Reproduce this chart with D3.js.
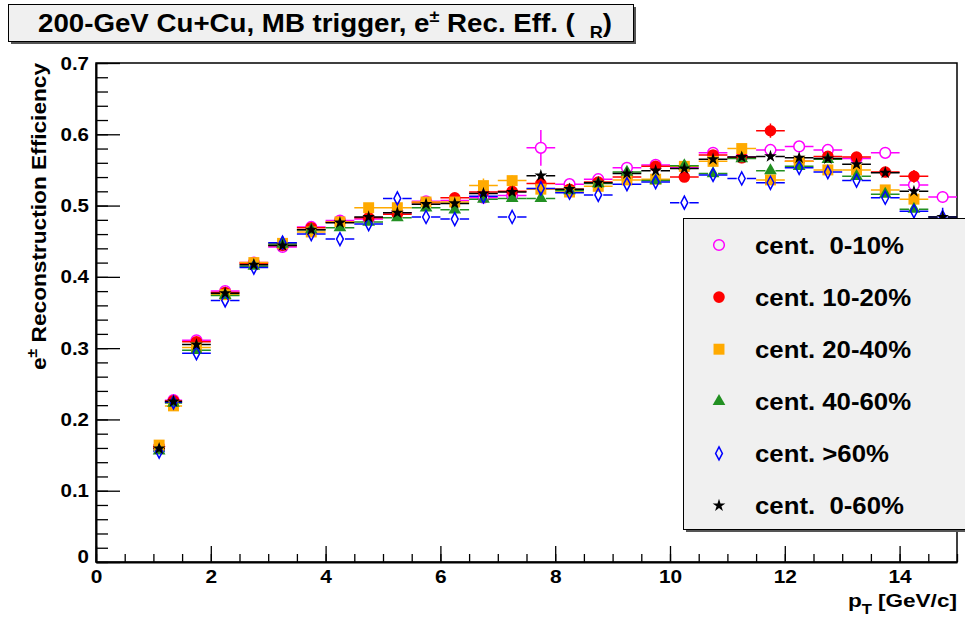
<!DOCTYPE html>
<html>
<head>
<meta charset="utf-8">
<script src="https://cdn.jsdelivr.net/npm/d3@7"></script>
<style>
    body { margin: 0; background: #fff; }
    text { font-family: "Liberation Sans", Arial, Helvetica, sans-serif; font-weight: bold; fill: #000; }
</style>
</head>
<body>
<div id="chart"></div>
<script>
// pT bin centres and half widths [GeV/c]
const pt = [1.1, 1.35, 1.75, 2.25, 2.75, 3.25, 3.75, 4.25, 4.75, 5.25, 5.75, 6.25, 6.75, 7.25, 7.75,
    8.25, 8.75, 9.25, 9.75, 10.25, 10.75, 11.25, 11.75, 12.25, 12.75, 13.25, 13.75, 14.25, 14.75]
const ptHalfWidth = [0.1, 0.15, 0.25, 0.25, 0.25, 0.25, 0.25, 0.25, 0.25, 0.25, 0.25, 0.25, 0.25, 0.25, 0.25,
    0.25, 0.25, 0.25, 0.25, 0.25, 0.25, 0.25, 0.25, 0.25, 0.25, 0.25, 0.25, 0.25, 0.25]

const centLabels = ["cent.  0-10%", "cent. 10-20%", "cent. 20-40%", "cent. 40-60%", "cent. >60%", "cent.  0-60%"]

// efficiency per centrality class
const eff0to10 = [0.162, 0.227, 0.311, 0.380, 0.420, 0.442, 0.470, 0.479, 0.481, 0.490, 0.506, 0.507, 0.511, 0.514, 0.581,
    0.530, 0.537, 0.553, 0.557, 0.553, 0.574, 0.568, 0.578, 0.583, 0.578, 0.566, 0.574, 0.529, 0.512]
const eff10to20 = [0.161, 0.226, 0.309, 0.378, 0.419, 0.444, 0.469, 0.477, 0.483, 0.488, 0.504, 0.511, 0.519, 0.520, 0.531,
    0.523, 0.533, 0.540, 0.555, 0.540, 0.571, 0.567, 0.605, 0.562, 0.569, 0.568, 0.547, 0.541, 0.470]
const eff20to40 = [0.164, 0.219, 0.301, 0.375, 0.420, 0.447, 0.463, 0.477, 0.497, 0.497, 0.505, 0.505, 0.528, 0.535, 0.523,
    0.519, 0.527, 0.536, 0.537, 0.555, 0.562, 0.580, 0.536, 0.562, 0.550, 0.550, 0.522, 0.509, 0.462]
const eff40to60 = [0.156, 0.223, 0.297, 0.374, 0.415, 0.446, 0.466, 0.469, 0.477, 0.483, 0.497, 0.494, 0.509, 0.510, 0.510,
    0.521, 0.531, 0.547, 0.535, 0.556, 0.545, 0.566, 0.549, 0.555, 0.565, 0.541, 0.516, 0.495, 0.455]
const effAbove60 = [0.155, 0.224, 0.293, 0.367, 0.413, 0.448, 0.460, 0.453, 0.474, 0.510, 0.484, 0.481, 0.513, 0.484, 0.524,
    0.518, 0.515, 0.530, 0.533, 0.504, 0.543, 0.538, 0.532, 0.553, 0.547, 0.535, 0.511, 0.492, 0.484]
const eff0to60 = [0.159, 0.225, 0.305, 0.377, 0.417, 0.444, 0.466, 0.476, 0.484, 0.490, 0.502, 0.503, 0.517, 0.519, 0.542,
    0.523, 0.532, 0.545, 0.549, 0.552, 0.565, 0.568, 0.569, 0.567, 0.566, 0.558, 0.546, 0.520, 0.484]

// statistical errors
const err0to10 = [0.004, 0.004, 0.004, 0.004, 0.004, 0.004, 0.004, 0.004, 0.004, 0.004, 0.004, 0.004, 0.005, 0.005, 0.025,
    0.005, 0.005, 0.005, 0.005, 0.005, 0.006, 0.006, 0.006, 0.006, 0.006, 0.006, 0.007, 0.007, 0.008]
const err10to20 = [0.004, 0.004, 0.004, 0.004, 0.004, 0.004, 0.004, 0.004, 0.004, 0.004, 0.004, 0.005, 0.005, 0.005, 0.005,
    0.005, 0.005, 0.005, 0.005, 0.005, 0.006, 0.006, 0.010, 0.006, 0.006, 0.006, 0.007, 0.009, 0.008]
const err20to40 = [0.004, 0.004, 0.004, 0.004, 0.004, 0.004, 0.004, 0.004, 0.004, 0.004, 0.004, 0.004, 0.010, 0.008, 0.005,
    0.005, 0.005, 0.005, 0.005, 0.005, 0.006, 0.006, 0.006, 0.006, 0.006, 0.006, 0.007, 0.007, 0.008]
const err40to60 = [0.004, 0.004, 0.004, 0.004, 0.004, 0.004, 0.004, 0.004, 0.004, 0.004, 0.004, 0.004, 0.005, 0.005, 0.005,
    0.005, 0.005, 0.005, 0.005, 0.005, 0.006, 0.006, 0.006, 0.006, 0.006, 0.006, 0.007, 0.007, 0.008]
const errAbove60 = [0.006, 0.006, 0.006, 0.006, 0.006, 0.009, 0.006, 0.006, 0.006, 0.007, 0.006, 0.006, 0.006, 0.006, 0.006,
    0.006, 0.006, 0.006, 0.006, 0.006, 0.007, 0.007, 0.007, 0.007, 0.007, 0.007, 0.008, 0.009, 0.013]
const err0to60 = [0.002, 0.002, 0.002, 0.002, 0.002, 0.002, 0.002, 0.002, 0.002, 0.002, 0.002, 0.002, 0.003, 0.003, 0.006,
    0.003, 0.003, 0.003, 0.003, 0.003, 0.003, 0.003, 0.003, 0.003, 0.003, 0.003, 0.004, 0.004, 0.006]

const xTicks = [0, 2, 4, 6, 8, 10, 12, 14]
const yTicks = [0, 0.1, 0.2, 0.3, 0.4, 0.5, 0.6, 0.7]

function plotChart() {
    const seriesValues = [eff0to10, eff10to20, eff20to40, eff40to60, effAbove60, eff0to60]
    const seriesErrors = [err0to10, err10to20, err20to40, err40to60, errAbove60, err0to60]

    // marker styles, ROOT-like
    const diamond = "M0,-6.5L3.4,0L0,6.5L-3.4,0Z"
    const styles = [
        { color: "#ff00ff", path: d3.symbol(d3.symbolCircle, 90)(), fill: "none" },
        { color: "#ff0000", path: d3.symbol(d3.symbolCircle, 105)(), fill: "#ff0000" },
        { color: "#ffaa00", path: d3.symbol(d3.symbolSquare, 120)(), fill: "#ffaa00" },
        { color: "#229022", path: d3.symbol(d3.symbolTriangle, 70)(), fill: "#229022" },
        { color: "#0000ff", path: diamond, fill: "none" },
        { color: "#000000", path: d3.symbol(d3.symbolStar, 50)(), fill: "#000000" }
    ]

    const series = centLabels.map((label, i) => ({
        label,
        style: styles[i],
        points: pt.map((x, j) => ({ x, hw: ptHalfWidth[j], y: seriesValues[i][j], err: seriesErrors[i][j] }))
    }))

    // Set dimensions
    const dimensions = {
        width: 965,
        height: 621,
        margins: { top: 63, right: 8, bottom: 59, left: 96 }
    }
    dimensions.boundedWidth = dimensions.width - dimensions.margins.left - dimensions.margins.right
    dimensions.boundedHeight = dimensions.height - dimensions.margins.top - dimensions.margins.bottom

    const wrapper = d3.select("#chart").append("svg")
        .attr("width", dimensions.width)
        .attr("height", dimensions.height)

    const bounds = wrapper.append("g")
        .attr("transform", `translate(${dimensions.margins.left},${dimensions.margins.top})`)

    // Scales
    const xScale = d3.scaleLinear()
        .domain([0, 15])
        .range([0, dimensions.boundedWidth])

    const yScale = d3.scaleLinear()
        .domain([0, 0.7])
        .range([dimensions.boundedHeight, 0])

    // Frame
    bounds.append("rect")
        .attr("width", dimensions.boundedWidth)
        .attr("height", dimensions.boundedHeight)
        .attr("fill", "none")
        .attr("stroke", "#000")
        .attr("stroke-width", 1.5)

    // text stretched a bit wider, like the ROOT output
    const stretch = (sel, k) => sel.each(function () {
        const len = this.getComputedTextLength()
        d3.select(this).attr("textLength", len * k).attr("lengthAdjust", "spacingAndGlyphs")
    })

    // Axes
    const xMinor = bounds.append("g")
        .attr("transform", `translate(0,${dimensions.boundedHeight})`)
        .call(d3.axisBottom(xScale).tickValues(d3.range(0, 15.01, 0.5)).tickSize(-8).tickFormat(""))
    xMinor.select(".domain").remove()

    const xAxis = bounds.append("g")
        .attr("transform", `translate(0,${dimensions.boundedHeight})`)
        .call(d3.axisBottom(xScale).tickValues(xTicks).tickSize(-16).tickSizeOuter(0).tickPadding(8).tickFormat(d3.format("d")))
    xAxis.selectAll("text").attr("font-size", 19).attr("fill", "#000").call(stretch, 1.1)

    const yMinor = bounds.append("g")
        .call(d3.axisLeft(yScale).tickValues(d3.range(0, 0.7001, 0.02)).tickSize(-12).tickFormat(""))
    yMinor.select(".domain").remove()

    const yAxis = bounds.append("g")
        .call(d3.axisLeft(yScale).tickValues(yTicks).tickSize(-24).tickSizeOuter(0).tickPadding(7)
            .tickFormat(d => d === 0 ? "0" : d3.format(".1f")(d)))
    yAxis.selectAll("text").attr("font-size", 19).attr("fill", "#000").call(stretch, 1.08)
    yAxis.selectAll(".tick").filter(d => d === 0).select("text").attr("dy", "0.0em")

    bounds.selectAll(".domain").attr("stroke-width", 2)
    bounds.selectAll(".tick line").attr("stroke", "#000").attr("stroke-width", 1.3)

    // Axis titles
    const xTitle = wrapper.append("text")
        .attr("x", 957)
        .attr("y", 607)
        .attr("text-anchor", "end")
        .attr("font-size", 19)
    xTitle.append("tspan").text("p")
    xTitle.append("tspan").attr("font-size", 14).attr("dy", 7).text("T")
    xTitle.append("tspan").attr("dy", -7).attr("dx", 5).text("[GeV/c]")
    xTitle.attr("textLength", 109).attr("lengthAdjust", "spacingAndGlyphs")

    const yTitle = wrapper.append("text")
        .attr("transform", "translate(46,63) rotate(-90)")
        .attr("text-anchor", "end")
        .attr("font-size", 20)
    yTitle.append("tspan").text("e")
    yTitle.append("tspan").attr("font-size", 14).attr("dy", -9).text("±")
    yTitle.append("tspan").attr("dy", 9).text(" Reconstruction Efficiency")
    yTitle.attr("textLength", 307).attr("lengthAdjust", "spacingAndGlyphs")

    // Data
    const gap = 5
    series.forEach(s => {
        const g = bounds.append("g")
        const pts = g.selectAll("g").data(s.points).enter().append("g")
            .attr("transform", d => `translate(${xScale(d.x)},${yScale(d.y)})`)

        pts.append("path")
            .attr("d", d => {
                const lo = xScale(d.x - d.hw) - xScale(d.x)
                const hi = xScale(d.x + d.hw) - xScale(d.x)
                const ey = yScale(0) - yScale(d.err)
                let p = `M${lo},0L${-gap},0M${gap},0L${hi},0`
                if (ey > gap) p += `M0,${-ey}L0,${-gap}M0,${gap}L0,${ey}`
                return p
            })
            .attr("stroke", s.style.color)
            .attr("stroke-width", 1.5)
            .attr("fill", "none")

        pts.append("path")
            .attr("d", s.style.path)
            .attr("fill", s.style.fill)
            .attr("stroke", s.style.color)
            .attr("stroke-width", s.style.fill === "none" ? 1.5 : 0)
    })

    // Title box
    wrapper.append("rect")
        .attr("x", 11).attr("y", 7).attr("width", 625).attr("height", 37)
        .attr("fill", "#555")
    wrapper.append("rect")
        .attr("x", 8.5).attr("y", 4.5).attr("width", 625).attr("height", 37)
        .attr("fill", "#f0f0f0").attr("stroke", "#000")

    const title = wrapper.append("text")
        .attr("x", 38)
        .attr("y", 32)
        .attr("font-size", 26)
    title.append("tspan").text("200-GeV Cu+Cu, MB trigger, e")
    title.append("tspan").attr("font-size", 17).attr("dy", -10).text("±")
    title.append("tspan").attr("dy", 10).text(" Rec. Eff. (")
    title.append("tspan").attr("font-size", 17).attr("dx", 14).attr("dy", 6).text("R")
    title.append("tspan").attr("dy", -6).text(")")
    title.attr("textLength", 574).attr("lengthAdjust", "spacingAndGlyphs")

    // Legend
    const legend = wrapper.append("g")
    legend.append("rect")
        .attr("x", 686).attr("y", 221).attr("width", 300).attr("height", 311)
        .attr("fill", "#555")
    legend.append("rect")
        .attr("x", 683.5).attr("y", 218.5).attr("width", 300).attr("height", 311)
        .attr("fill", "#f0f0f0").attr("stroke", "#000")

    const rows = legend.selectAll(".legendItem")
        .data(series)
        .enter().append("g")
        .attr("class", "legendItem")
        .attr("transform", (d, i) => `translate(719,${245 + i * 52.1})`)

    rows.append("path")
        .attr("d", d => d.style.path)
        .attr("fill", d => d.style.fill)
        .attr("stroke", d => d.style.color)
        .attr("stroke-width", d => d.style.fill === "none" ? 1.5 : 0)

    rows.append("text")
        .attr("x", 36)
        .attr("y", 8.5)
        .attr("font-size", 23)
        .style("white-space", "pre")
        .text(d => d.label)
        .call(stretch, 1.12)
}

plotChart()
</script>
</body>
</html>
